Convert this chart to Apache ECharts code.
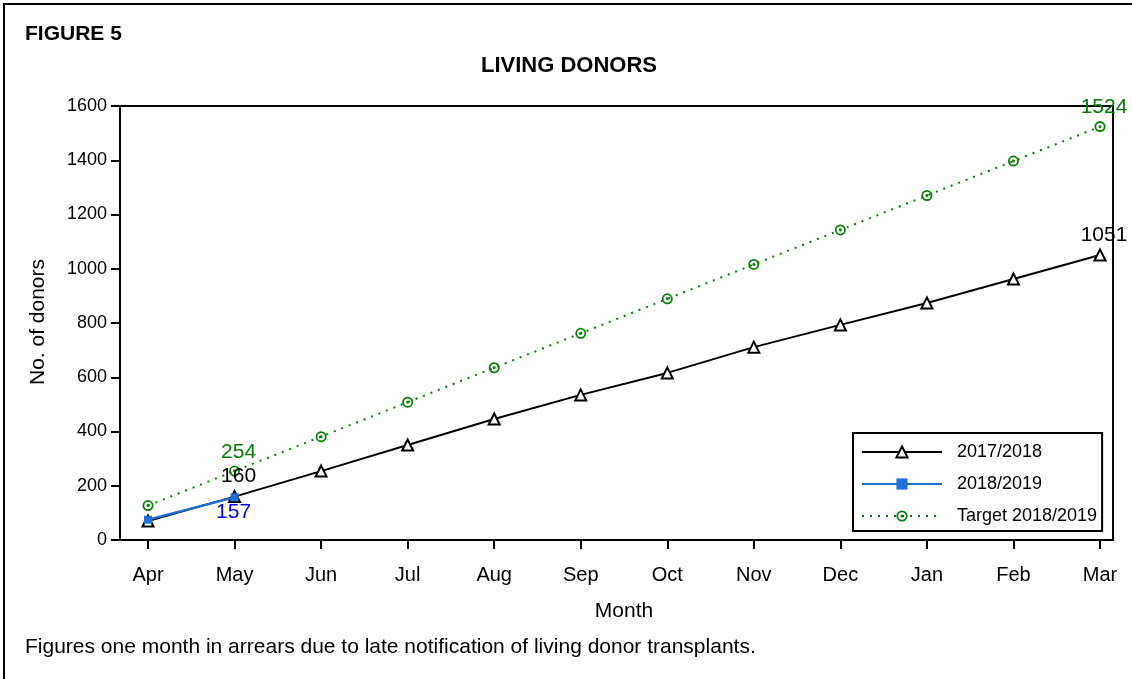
<!DOCTYPE html>
<html>
<head>
<meta charset="utf-8">
<script src="https://cdn.jsdelivr.net/npm/echarts@6/dist/echarts.min.js"></script>
<style>
html,body{margin:0;padding:0;background:#fff;}
#chart{width:1132px;height:679px;}
</style>
</head>
<body>
<div id="chart"></div>
<script>
const months = ['Apr','May','Jun','Jul','Aug','Sep','Oct','Nov','Dec','Jan','Feb','Mar'];
const yTicks = [0,200,400,600,800,1000,1200,1400,1600];
const s2017 = [70,160,254,350,446,535,616,711,793,874,962,1051];
const s2018 = [75,157];
const target = [127,254,381,508,635,762,889,1016,1143,1270,1397,1524];
const labelIdx2017 = [1,11];
const labelIdx2018 = [1];
const labelIdxTarget = [1,11];

const FONT = '"Liberation Sans", Arial, sans-serif';
const ringPath = 'path://M10,0 A10,10 0 1,1 10,20 A10,10 0 1,1 10,0 Z M10,3.2 A6.8,6.8 0 1,0 10,16.8 A6.8,6.8 0 1,0 10,3.2 Z M10,7.3 A2.7,2.7 0 1,1 10,12.7 A2.7,2.7 0 1,1 10,7.3 Z';

function withLabels(arr, idxs, color, pos, dist, off) {
  return arr.map((v, i) => idxs.includes(i) ? {
    value: v,
    label: {show: true, position: pos, distance: dist, offset: off, color: color, fontSize: 21, fontFamily: FONT, formatter: String(v)}
  } : v);
}

const chart = echarts.init(document.getElementById('chart'));
chart.setOption({
  animation: false,
  backgroundColor: '#fff',
  textStyle: {fontFamily: FONT},
  grid: {left: 148, right: 32, top: 106, bottom: 139, containLabel: false},
  xAxis: {
    type: 'category',
    data: months,
    boundaryGap: false,
    axisLine: {show: true, lineStyle: {color: '#000', width: 2}},
    axisTick: {show: true, length: 9, lineStyle: {color: '#000', width: 2}},
    axisLabel: {color: '#000', fontSize: 20, fontFamily: FONT, margin: 25},
    splitLine: {show: false}
  },
  yAxis: {
    type: 'value',
    min: yTicks[0],
    max: yTicks[yTicks.length - 1],
    interval: yTicks[1] - yTicks[0],
    offset: 28,
    axisLine: {show: true, lineStyle: {color: '#000', width: 2}},
    axisTick: {show: true, length: 9, lineStyle: {color: '#000', width: 2}},
    axisLabel: {color: '#000', fontSize: 18, fontFamily: FONT, margin: 13, formatter: v => String(v)},
    splitLine: {show: false}
  },
  legend: {
    orient: 'vertical',
    left: 853,
    top: 433,
    borderColor: '#000',
    borderWidth: 2,
    padding: [10, 5, 6, 8],
    itemWidth: 80,
    itemHeight: 14,
    itemGap: 14,
    textStyle: {color: '#000', fontSize: 18, fontFamily: FONT, padding: [0, 0, 0, 10]},
    data: ['2017/2018', '2018/2019', 'Target 2018/2019']
  },
  graphic: [
    {type: 'line', shape: {x1: 3, y1: 4, x2: 1132, y2: 4}, style: {stroke: '#000', lineWidth: 2}, silent: true},
    {type: 'line', shape: {x1: 4, y1: 3, x2: 4, y2: 679}, style: {stroke: '#000', lineWidth: 2}, silent: true},
    {type: 'rect', shape: {x: 120, y: 106, width: 993, height: 434}, style: {fill: null, stroke: '#000', lineWidth: 2}, silent: true, z: 0},
    {type: 'text', x: 25, y: 34, style: {text: 'FIGURE 5', font: 'bold 21px ' + FONT, fill: '#000', textVerticalAlign: 'middle'}},
    {type: 'text', x: 569, y: 66, style: {text: 'LIVING DONORS', font: 'bold 22px ' + FONT, fill: '#000', textAlign: 'center', textVerticalAlign: 'middle'}},
    {type: 'text', x: 38, y: 322, rotation: Math.PI / 2, style: {text: 'No. of donors', font: '21px ' + FONT, fill: '#000', textAlign: 'center', textVerticalAlign: 'middle'}},
    {type: 'text', x: 624, y: 611, style: {text: 'Month', font: '21px ' + FONT, fill: '#000', textAlign: 'center', textVerticalAlign: 'middle'}},
    {type: 'text', x: 25, y: 647, style: {text: 'Figures one month in arrears due to late notification of living donor transplants.', font: '21px ' + FONT, fill: '#000', textVerticalAlign: 'middle'}}
  ],
  series: [
    {
      name: '2017/2018',
      type: 'line',
      data: withLabels(s2017, labelIdx2017, '#000', 'top', 3, [4, 0]),
      symbol: 'emptyTriangle',
      symbolSize: 11,
      showAllSymbol: true,
      lineStyle: {color: '#000', width: 2},
      itemStyle: {color: '#000', borderWidth: 2},
      z: 2
    },
    {
      name: '2018/2019',
      type: 'line',
      data: withLabels(s2018, labelIdx2018, '#0000ff', 'bottom', 0, [-1, 0]),
      symbol: 'rect',
      symbolSize: 8,
      showAllSymbol: true,
      lineStyle: {color: '#1f6fd6', width: 2.5},
      itemStyle: {color: '#1f6fd6'},
      z: 3
    },
    {
      name: 'Target 2018/2019',
      type: 'line',
      data: withLabels(target, labelIdxTarget, '#008000', 'top', 3, [4, 0]),
      symbol: ringPath,
      symbolSize: 11,
      showAllSymbol: true,
      lineStyle: {color: '#008000', width: 2, type: [2, 6]},
      itemStyle: {color: '#008000'},
      z: 2
    }
  ]
});
</script>
</body>
</html>
